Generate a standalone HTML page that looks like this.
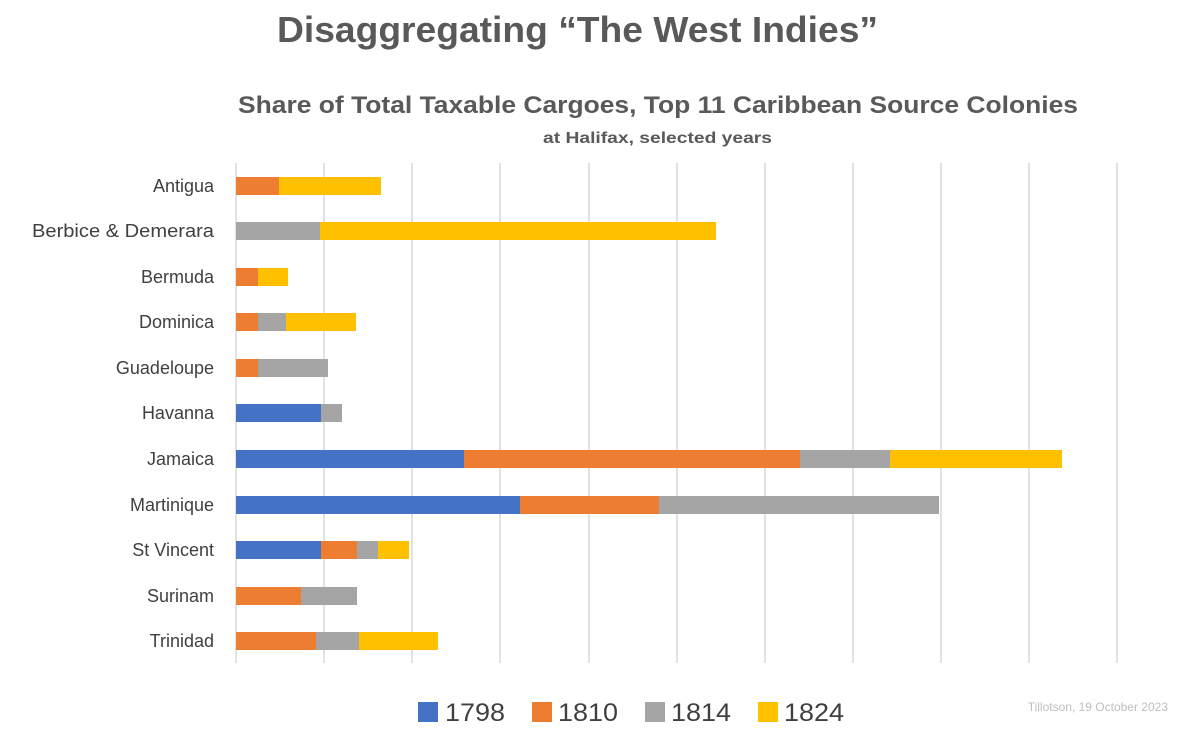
<!DOCTYPE html>
<html><head><style>
body{margin:0;width:1183px;height:732px;background:#fff;overflow:hidden;font-family:"Liberation Sans",sans-serif}
</style></head><body>
<svg width="1183" height="732" xmlns="http://www.w3.org/2000/svg" font-family="Liberation Sans, sans-serif">
<text x="277" y="42" textLength="601" lengthAdjust="spacingAndGlyphs" font-size="36" font-weight="bold" fill="#595959">Disaggregating “The West Indies”</text>
<text x="238" y="113" textLength="840" lengthAdjust="spacingAndGlyphs" font-size="24" font-weight="bold" fill="#595959">Share of Total Taxable Cargoes, Top 11 Caribbean Source Colonies</text>
<text x="543" y="143" textLength="229" lengthAdjust="spacingAndGlyphs" font-size="16" font-weight="bold" fill="#595959">at Halifax, selected years</text>
<g stroke="#d9d9d9" stroke-width="1.5">
<line x1="236" y1="163" x2="236" y2="663"/><line x1="324" y1="163" x2="324" y2="663"/><line x1="412" y1="163" x2="412" y2="663"/><line x1="500" y1="163" x2="500" y2="663"/><line x1="589" y1="163" x2="589" y2="663"/><line x1="677" y1="163" x2="677" y2="663"/><line x1="765" y1="163" x2="765" y2="663"/><line x1="853" y1="163" x2="853" y2="663"/><line x1="941" y1="163" x2="941" y2="663"/><line x1="1029" y1="163" x2="1029" y2="663"/><line x1="1117" y1="163" x2="1117" y2="663"/>
</g>
<g font-size="18" fill="#404040" text-anchor="end">
<text x="214" y="192">Antigua</text><text x="214" y="237" textLength="182" lengthAdjust="spacingAndGlyphs">Berbice &amp; Demerara</text><text x="214" y="283">Bermuda</text><text x="214" y="328">Dominica</text><text x="214" y="374">Guadeloupe</text><text x="214" y="419">Havanna</text><text x="214" y="465">Jamaica</text><text x="214" y="511">Martinique</text><text x="214" y="556">St Vincent</text><text x="214" y="602">Surinam</text><text x="214" y="647">Trinidad</text>
</g>
<g>
<rect x="236" y="177" width="43" height="18" fill="#ed7d31"/><rect x="279" y="177" width="102" height="18" fill="#ffc000"/>
<rect x="236" y="222" width="84" height="18" fill="#a5a5a5"/><rect x="320" y="222" width="396" height="18" fill="#ffc000"/>
<rect x="236" y="268" width="22" height="18" fill="#ed7d31"/><rect x="258" y="268" width="30" height="18" fill="#ffc000"/>
<rect x="236" y="313" width="22" height="18" fill="#ed7d31"/><rect x="258" y="313" width="28" height="18" fill="#a5a5a5"/><rect x="286" y="313" width="70" height="18" fill="#ffc000"/>
<rect x="236" y="359" width="22" height="18" fill="#ed7d31"/><rect x="258" y="359" width="70" height="18" fill="#a5a5a5"/>
<rect x="236" y="404" width="85" height="18" fill="#4472c4"/><rect x="321" y="404" width="21" height="18" fill="#a5a5a5"/>
<rect x="236" y="450" width="228" height="18" fill="#4472c4"/><rect x="464" y="450" width="336" height="18" fill="#ed7d31"/><rect x="800" y="450" width="90" height="18" fill="#a5a5a5"/><rect x="890" y="450" width="172" height="18" fill="#ffc000"/>
<rect x="236" y="496" width="284" height="18" fill="#4472c4"/><rect x="520" y="496" width="139" height="18" fill="#ed7d31"/><rect x="659" y="496" width="280" height="18" fill="#a5a5a5"/>
<rect x="236" y="541" width="85" height="18" fill="#4472c4"/><rect x="321" y="541" width="36" height="18" fill="#ed7d31"/><rect x="357" y="541" width="21" height="18" fill="#a5a5a5"/><rect x="378" y="541" width="31" height="18" fill="#ffc000"/>
<rect x="236" y="587" width="65" height="18" fill="#ed7d31"/><rect x="301" y="587" width="56" height="18" fill="#a5a5a5"/>
<rect x="236" y="632" width="80" height="18" fill="#ed7d31"/><rect x="316" y="632" width="43" height="18" fill="#a5a5a5"/><rect x="359" y="632" width="79" height="18" fill="#ffc000"/>
</g>
<g font-size="25" fill="#404040">
<rect x="418" y="702" width="20" height="20" fill="#4472c4"/><text x="445" y="721" textLength="60" lengthAdjust="spacingAndGlyphs">1798</text>
<rect x="532" y="702" width="20" height="20" fill="#ed7d31"/><text x="558" y="721" textLength="60" lengthAdjust="spacingAndGlyphs">1810</text>
<rect x="645" y="702" width="20" height="20" fill="#a5a5a5"/><text x="671" y="721" textLength="60" lengthAdjust="spacingAndGlyphs">1814</text>
<rect x="758" y="702" width="20" height="20" fill="#ffc000"/><text x="784" y="721" textLength="60" lengthAdjust="spacingAndGlyphs">1824</text>
</g>
<text x="1168" y="711" text-anchor="end" font-size="12" fill="#bfbfbf">Tillotson, 19 October 2023</text>
</svg>
</body></html>
